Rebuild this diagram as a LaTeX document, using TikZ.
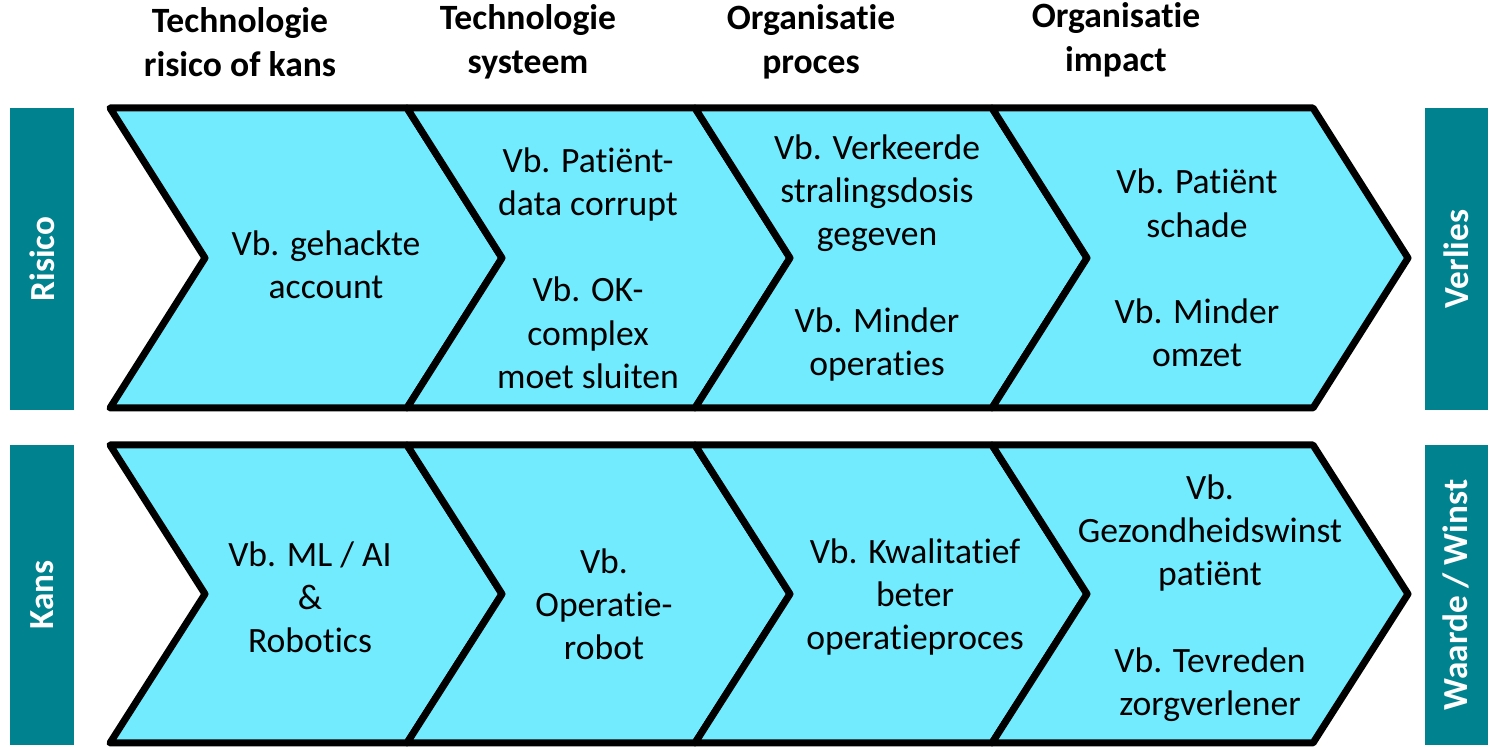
\documentclass[tikz,border=0pt]{standalone}
\usepackage{fontspec}
\setmainfont{Carlito}[Ligatures=NoCommon]
\definecolor{chevfill}{RGB}{113,235,253}
\definecolor{barteal}{RGB}{0,130,143}
\begin{document}
\begin{tikzpicture}[x=0.5pt,y=-0.5pt,
  chevron/.style={draw=black,fill=chevfill,line width=3.5pt,line join=round},
  sidebar/.style={fill=barteal,draw=none},
  bartext/.style={text=white,font=\fontsize{17.6pt}{21.5pt}\selectfont\bfseries,rotate=90,inner sep=0pt},
  headtext/.style={align=center,font=\fontsize{17.8pt}{22pt}\selectfont\bfseries,inner sep=0pt},
  bodytext/.style={align=center,font=\fontsize{17.8pt}{21.6pt}\selectfont,inner sep=0pt}]
\useasboundingbox (0,0) rectangle (1495,747);

% chevron between left x #1 and right x #2, from top y #3 to bottom y #4
\newcommand\chevronshape[4]{%
  \draw[chevron] (#1,#3) -- (#2,#3) -- ({#2+95},{(#3+#4)/2}) -- (#2,#4)
    -- (#1,#4) -- ({#1+95},{(#3+#4)/2}) -- cycle;}

% column headers
\node[headtext] (h1) at (240,42) {Technologie\\risico of kans};
\node[headtext] (h2) at (528,42) {Technologie\\systeem};
\node[headtext] (h3) at (811,42) {Organisatie\\proces};
\node[headtext] (h4) at (1116,40) {Organisatie\\impact};

% side bars
\fill[sidebar] (10,108) rectangle (74,410);
\fill[sidebar] (10,445) rectangle (74,745);
\fill[sidebar] (1425,108) rectangle (1488,410);
\fill[sidebar] (1425,445) rectangle (1488,745);
\node[bartext] (risico) at (42,259) {Risico};
\node[bartext] (kans) at (42,595) {Kans};
\node[bartext] (verlies) at (1456,259) {Verlies};
\node[bartext] (winst) at (1456,595) {Waarde / Winst};

% risk row
\chevronshape{110}{407}{108}{408}
\chevronshape{407}{695}{108}{408}
\chevronshape{695}{992}{108}{408}
\chevronshape{992}{1313}{108}{408}

% opportunity row
\chevronshape{110}{407}{445}{743}
\chevronshape{407}{695}{445}{743}
\chevronshape{695}{992}{445}{743}
\chevronshape{992}{1313}{445}{743}

% risk row texts
\node[bodytext] (r1) at (326,265) {Vb. gehackte\\account};
\node[bodytext] (r2) at (588,268) {Vb. Patiënt-\\data corrupt\\[21.6pt]Vb. OK-\\complex\\moet sluiten};
\node[bodytext] (r3) at (877,258) {Vb. Verkeerde\\stralingsdosis\\gegeven\\[21.6pt]Vb. Minder\\operaties};
\node[bodytext] (r4) at (1197,268) {Vb. Patiënt\\schade\\[21.6pt]Vb. Minder\\omzet};

% opportunity row texts
\node[bodytext] (k1) at (310,597) {Vb. ML / AI\\\&\\Robotics};
\node[bodytext] (k2) at (604,604) {Vb.\\Operatie-\\robot};
\node[bodytext] (k3) at (915,597) {Vb. Kwalitatief\\beter\\operatieproces};
\node[bodytext] (k4) at (1210,598) {Vb.\\Gezondheidswinst\\patiënt\\[21.6pt]Vb. Tevreden\\zorgverlener};
\end{tikzpicture}
\end{document}
